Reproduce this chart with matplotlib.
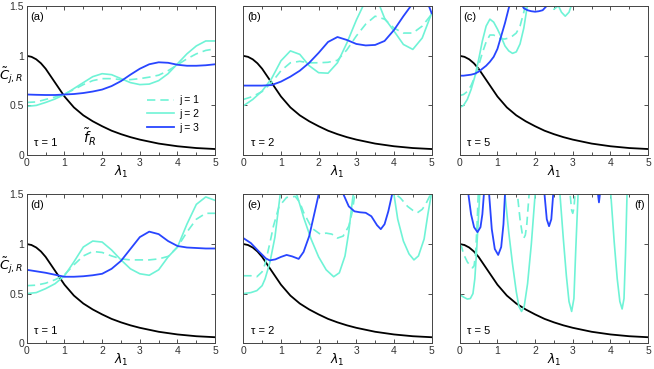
import matplotlib
matplotlib.use("Agg")
import matplotlib.pyplot as plt
from matplotlib.ticker import MultipleLocator

plt.rcParams['font.family'] = ['Liberation Sans', 'DejaVu Sans']
plt.rcParams['mathtext.fontset'] = 'dejavusans'

# colours for j = 1, 2 (cyan) and j = 3 (blue)
cyan = '#6ff3d6'
blue = '#2845ff'

# f_R (same in every panel)
lam_f = [0, 0.125, 0.25, 0.375, 0.5, 0.625, 0.75, 0.875, 1, 1.25, 1.5, 1.75, 2, 2.25, 2.5, 2.75, 3, 3.5, 4, 4.5, 5]
f_R = [1.0, 0.99, 0.965, 0.925, 0.87, 0.80, 0.73, 0.66, 0.59, 0.48, 0.40, 0.34, 0.29, 0.245, 0.21, 0.18, 0.155, 0.115, 0.088, 0.07, 0.06]

# common grid for the smooth panels (a), (b), (d)
lam = [0, 0.25, 0.5, 0.75, 1, 1.25, 1.5, 1.75, 2, 2.25, 2.5, 2.75, 3, 3.25, 3.5, 3.75, 4, 4.25, 4.5, 4.75, 5]

# panel (a), tau = 1
j1_a = [0.53, 0.535, 0.56, 0.585, 0.615, 0.66, 0.71, 0.75, 0.77, 0.77, 0.76, 0.76, 0.77, 0.785, 0.805, 0.85, 0.91, 0.97, 1.02, 1.055, 1.07]
j2_a = [0.49, 0.50, 0.53, 0.565, 0.61, 0.67, 0.73, 0.79, 0.82, 0.81, 0.77, 0.73, 0.71, 0.715, 0.75, 0.82, 0.92, 1.02, 1.10, 1.15, 1.15]
j3_a = [0.61, 0.607, 0.605, 0.605, 0.61, 0.615, 0.625, 0.64, 0.66, 0.695, 0.745, 0.81, 0.87, 0.915, 0.935, 0.93, 0.91, 0.90, 0.90, 0.905, 0.915]

# panel (b), tau = 2
j1_b = [0.56, 0.59, 0.64, 0.73, 0.85, 0.93, 0.945, 0.93, 0.93, 0.935, 0.955, 1.06, 1.2, 1.32, 1.40, 1.37, 1.28, 1.23, 1.23, 1.30, 1.42]
j2_b = [0.495, 0.56, 0.645, 0.77, 0.95, 1.05, 1.015, 0.90, 0.83, 0.825, 0.93, 1.13, 1.36, 1.56, 1.62, 1.38, 1.25, 1.115, 1.065, 1.18, 1.43]
j3_b = [0.70, 0.70, 0.70, 0.705, 0.74, 0.79, 0.85, 0.93, 1.03, 1.14, 1.19, 1.16, 1.12, 1.105, 1.11, 1.15, 1.26, 1.40, 1.53, 1.68, 1.43]

# panel (c), tau = 5
lam_c = [0, 0.1, 0.2, 0.3, 0.4, 0.5, 0.6, 0.7, 0.8, 0.9, 1.0, 1.1, 1.2, 1.3, 1.4, 1.5, 1.6, 1.7, 1.8, 1.9,
         2.0, 2.1, 2.2, 2.3, 2.4, 2.5, 2.6, 2.7, 2.8, 2.9, 3.0, 3.5, 4, 4.5, 5]
j1_c = [0.60, 0.61, 0.64, 0.70, 0.79, 0.90, 1.03, 1.14, 1.21, 1.21, 1.19, 1.17, 1.17, 1.18, 1.20, 1.23, 1.30, 1.44, 1.6, 1.7,
        1.75, 1.7, 1.6, 1.55, 1.5, 1.47, 1.5, 1.58, 1.7, 1.8, 1.85, 1.9, 2, 2, 2]
j2_c = [0.48, 0.50, 0.56, 0.66, 0.79, 0.96, 1.15, 1.30, 1.37, 1.34, 1.27, 1.19, 1.10, 1.05, 1.025, 1.04, 1.12, 1.28, 1.52, 1.7,
        1.8, 1.85, 1.85, 1.8, 1.72, 1.62, 1.52, 1.44, 1.40, 1.44, 1.55, 1.9, 2, 2, 2]
j3_c = [0.80, 0.80, 0.805, 0.81, 0.82, 0.84, 0.87, 0.90, 0.94, 0.99, 1.07, 1.20, 1.33, 1.48, 1.60, 1.62, 1.55, 1.48, 1.46, 1.45,
        1.445, 1.45, 1.46, 1.50, 1.58, 1.66, 1.75, 1.8, 1.85, 1.9, 1.9, 2, 2, 2, 2]

# panel (d), tau = 1
j1_d = [0.58, 0.585, 0.605, 0.64, 0.69, 0.79, 0.88, 0.925, 0.915, 0.88, 0.85, 0.84, 0.84, 0.84, 0.85, 0.875, 0.97, 1.12, 1.25, 1.31, 1.31]
j2_d = [0.50, 0.51, 0.55, 0.60, 0.68, 0.82, 0.97, 1.03, 1.02, 0.94, 0.84, 0.75, 0.70, 0.685, 0.74, 0.87, 0.97, 1.20, 1.40, 1.475, 1.44]
j3_d = [0.74, 0.725, 0.71, 0.69, 0.67, 0.67, 0.675, 0.685, 0.70, 0.75, 0.83, 0.95, 1.07, 1.125, 1.10, 1.03, 0.98, 0.965, 0.96, 0.955, 0.955]

# panel (e), tau = 2
lam1_e = [0, 0.2, 0.36, 0.5, 0.58, 0.7, 0.8, 0.95, 1.15, 1.38, 1.5, 1.6, 1.82, 2.04, 2.2, 2.35, 2.5, 2.65, 2.8, 2.89,
          3.0, 3.5, 3.95, 4.05, 4.17, 4.36, 4.5, 4.62, 4.75, 4.84, 4.97, 5.0]
j1_e = [0.68, 0.68, 0.67, 0.72, 0.80, 1.0, 1.18, 1.38, 1.47, 1.48, 1.42, 1.32, 1.16, 1.10, 1.11, 1.10, 1.06, 1.08, 1.18, 1.32,
        1.6, 2.0, 1.6, 1.5, 1.465, 1.38, 1.34, 1.315, 1.35, 1.40, 1.5, 1.52]
lam2_e = [0, 0.2, 0.36, 0.5, 0.58, 0.71, 0.84, 0.98, 1.1, 1.25, 1.4, 1.5, 1.6, 1.8, 2.0, 2.2, 2.4, 2.55, 2.7, 2.8,
          2.9, 3.0, 3.5, 3.9, 4.0, 4.1, 4.25, 4.4, 4.53, 4.65, 4.8, 4.9, 5.0]
j2_e = [0.50, 0.51, 0.53, 0.58, 0.65, 0.82, 1.07, 1.5, 1.75, 1.75, 1.52, 1.40, 1.27, 1.05, 0.87, 0.74, 0.67, 0.71, 0.88, 1.12,
        1.45, 1.7, 2.0, 1.7, 1.5, 1.25, 1.03, 0.90, 0.84, 0.88, 1.05, 1.3, 1.52]
lam3_e = [0, 0.2, 0.4, 0.6, 0.7, 0.85, 1.0, 1.15, 1.3, 1.47, 1.6, 1.75, 1.9, 2.0, 2.2, 2.5, 2.66, 2.8, 2.95, 3.1,
          3.25, 3.4, 3.55, 3.65, 3.75, 3.85, 3.95, 4.1, 4.5, 5]
j3_e = [1.06, 1.01, 0.93, 0.855, 0.835, 0.845, 0.87, 0.89, 0.875, 0.85, 0.92, 1.08, 1.33, 1.5, 1.7, 1.7, 1.5, 1.38, 1.33, 1.32,
        1.315, 1.28, 1.19, 1.15, 1.2, 1.33, 1.5, 1.7, 1.9, 1.9]

# panel (f), tau = 5
lam1_f = [0, 0.05, 0.1, 0.2, 0.3, 0.34, 0.38, 0.42, 0.46, 0.5, 1.45, 1.53, 1.6, 1.66, 1.7, 1.74, 1.78, 1.84, 1.9,
          2.88, 2.93, 2.97, 3.0, 3.03, 3.08, 5]
j1_f = [1.0, 0.97, 0.9, 0.82, 0.77, 0.76, 0.78, 0.9, 1.2, 1.6, 1.8, 1.5, 1.25, 1.1, 1.06, 1.09, 1.2, 1.5, 1.8,
        1.7, 1.5, 1.34, 1.31, 1.36, 1.6, 2.0]
lam2_f = [0, 0.1, 0.2, 0.28, 0.35, 0.4, 0.45, 0.5, 0.53, 0.6, 1.1, 1.2, 1.3, 1.4, 1.5, 1.57, 1.64, 1.71, 1.8, 1.9,
          2.0, 2.1, 2.55, 2.66, 2.75, 2.83, 2.9, 2.97, 3.03, 3.08, 3.14, 3.2, 3.9, 4.01, 4.1, 4.18, 4.25, 4.31, 4.36,
          4.4, 4.44, 4.5, 5]
j2_f = [0.49, 0.465, 0.445, 0.45, 0.50, 0.65, 0.95, 1.3, 1.5, 2.0, 2.0, 1.5, 1.12, 0.80, 0.52, 0.37, 0.32, 0.37, 0.6, 1.0,
        1.5, 2.0, 2.0, 1.5, 1.05, 0.68, 0.42, 0.32, 0.45, 0.95, 1.5, 2.0, 2.0, 1.5, 1.02, 0.65, 0.42, 0.345, 0.45,
        0.9, 1.5, 2.0, 2.0]
lam3_f = [0, 0.18, 0.23, 0.3, 0.38, 0.47, 0.55, 0.6, 0.64, 0.7, 0.72, 0.78, 0.85, 0.93, 1.02, 1.1, 1.16, 1.2, 1.26,
          2.2, 2.25, 2.31, 2.37, 2.43, 2.48, 2.53, 3.64, 3.67, 3.695, 3.72, 3.75, 5]
j3_f = [2.0, 1.8, 1.5, 1.3, 1.17, 1.12, 1.17, 1.3, 1.5, 1.8, 1.9, 1.5, 1.15, 0.95, 0.89, 0.97, 1.2, 1.5, 1.9,
        1.8, 1.5, 1.25, 1.18, 1.25, 1.5, 1.8, 1.6, 1.5, 1.42, 1.5, 1.6, 2.0]

yticks = [0, 0.5, 1, 1.5]
yticklabels = ['0', '0.5', '1', '1.5']

panels = [
    ('(a)', 'τ = 1', (lam, j1_a), (lam, j2_a), (lam, j3_a)),
    ('(b)', 'τ = 2', (lam, j1_b), (lam, j2_b), (lam, j3_b)),
    ('(c)', 'τ = 5', (lam_c, j1_c), (lam_c, j2_c), (lam_c, j3_c)),
    ('(d)', 'τ = 1', (lam, j1_d), (lam, j2_d), (lam, j3_d)),
    ('(e)', 'τ = 2', (lam1_e, j1_e), (lam2_e, j2_e), (lam3_e, j3_e)),
    ('(f)', 'τ = 5', (lam1_f, j1_f), (lam2_f, j2_f), (lam3_f, j3_f)),
]

fig = plt.figure(figsize=(6.54, 3.69), dpi=100)
lefts = [0.041, 0.372, 0.703]
bottoms = [0.580, 0.070]

for i, (tag, tau, c1, c2, c3) in enumerate(panels):
    row, col = divmod(i, 3)
    ax = fig.add_axes([lefts[col], bottoms[row], 0.288, 0.403])
    ax.plot(lam_f, f_R, color='black', lw=1.3)
    ax.plot(c1[0], c1[1], color=cyan, lw=1.2, dashes=(5, 3), label='j = 1')
    ax.plot(c2[0], c2[1], color=cyan, lw=1.2, label='j = 2')
    ax.plot(c3[0], c3[1], color=blue, lw=1.3, label='j = 3')

    ax.set_xlim(0, 5)
    ax.set_ylim(0, 1.5)
    ax.set_xticks([0, 1, 2, 3, 4, 5])
    ax.xaxis.set_minor_locator(MultipleLocator(0.5))
    ax.set_yticks(yticks)
    ax.tick_params(which='both', direction='in', top=True, right=True, labelsize=7.5,
                   length=3, width=0.6, pad=2, colors='#333333')
    ax.tick_params(which='minor', length=2)
    for s in ax.spines.values():
        s.set_linewidth(0.7)
        s.set_color('#444444')
    if col == 0:
        ax.set_yticklabels(yticklabels)
        ax.text(-0.085, 0.53 if row == 0 else 0.52, r'$\tilde{C}_{j,R}$', transform=ax.transAxes,
                ha='center', va='center', fontsize=9.5)
    else:
        ax.set_yticklabels([])
    ax.set_xlabel(r'$\lambda_1$', fontsize=9, labelpad=-3)

    if tag == '(f)':
        ax.text(0.985, 0.93, tag, transform=ax.transAxes, ha='right', va='center', fontsize=8)
    else:
        ax.text(0.02, 0.93, tag, transform=ax.transAxes, ha='left', va='center', fontsize=8)
    ax.text(0.04, 0.08, tau, transform=ax.transAxes, ha='left', va='center', fontsize=8)

    if tag == '(a)':
        ax.text(0.30, 0.115, r'$\tilde{f}_R$', transform=ax.transAxes, ha='left', va='center', fontsize=10)
        ax.legend(loc='upper left', bbox_to_anchor=(0.6, 0.45), frameon=False, fontsize=7.5,
                  handlelength=2.6, handletextpad=0.5, labelspacing=0.35, borderpad=0.2)

fig.savefig('out.png', dpi=100)
